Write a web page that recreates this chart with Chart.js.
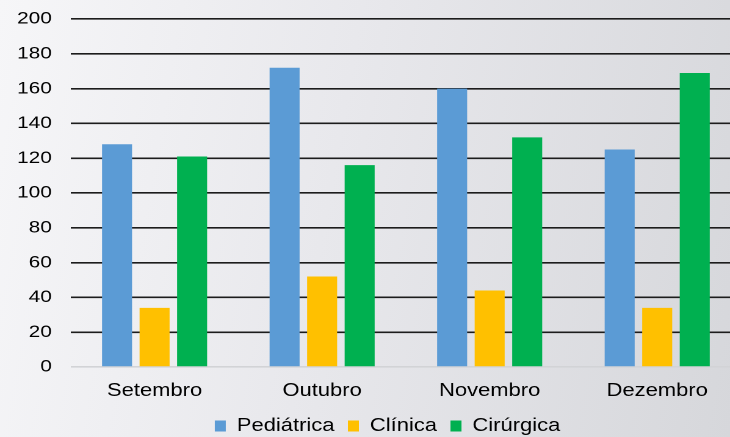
<!DOCTYPE html>
<html>
<head>
<meta charset="utf-8">
<script src="https://cdn.jsdelivr.net/npm/chart.js@4"></script>
<style>
  html, body { margin: 0; padding: 0; }
  body {
    width: 730px; height: 437px; overflow: hidden;
    background: linear-gradient(100deg, #f6f6f8 0%, #e8e8ec 45%, #d6d7db 100%);
  }
  /* the source image is stretched horizontally (and cropped on the right), so the chart is too */
  .wrap { width: 607px; height: 437px; transform: scaleX(1.2207); transform-origin: 0 0; }
</style>
</head>
<body>
<div class="wrap"><canvas id="chart"></canvas></div>
<script>
const months = ['Setembro', 'Outubro', 'Novembro', 'Dezembro'];
const pediatrica = [128, 172, 160, 125];
const clinica = [34, 52, 44, 34];
const cirurgica = [121, 116, 132, 169];
const yTicks = [0, 20, 40, 60, 80, 100, 120, 140, 160, 180, 200];

const font = 'Liberation Sans, Arial, sans-serif';

function barSet(label, data, color) {
  return {
    label: label,
    data: data,
    backgroundColor: color,
    categoryPercentage: 0.672,
    barPercentage: 0.8
  };
}

// fixed legend height and a small shift so it sits where the original one does
const legendFix = {
  id: 'legendFix',
  afterInit(chart) {
    const lg = chart.legend;
    const fit = lg.fit;
    lg.fit = function () { fit.call(this); this.height = 31; };
  },
  afterLayout(chart) {
    chart.legend.left += 28;
  }
};

new Chart(document.getElementById('chart'), {
  type: 'bar',
  data: {
    labels: months,
    datasets: [
      barSet('Pediátrica', pediatrica, '#5b9bd5'),
      barSet('Clínica', clinica, '#ffc000'),
      barSet('Cirúrgica', cirurgica, '#00b050')
    ]
  },
  plugins: [legendFix],
  options: {
    responsive: true,
    maintainAspectRatio: false,
    devicePixelRatio: 2,
    animation: false,
    layout: { padding: { top: 19, left: 0, right: 0, bottom: 0 } },
    plugins: {
      tooltip: { enabled: false },
      legend: {
        position: 'bottom',
        labels: {
          font: { family: font, size: 18 },
          color: '#000',
          boxWidth: 9,
          boxHeight: 11,
          padding: 11
        }
      }
    },
    scales: {
      x: {
        afterFit: (scale) => { scale.height = 39; },
        grid: { display: false, drawTicks: false },
        border: { display: false },
        ticks: { font: { family: font, size: 18 }, color: '#000', padding: 13 }
      },
      y: {
        min: 0,
        max: 200,
        afterBuildTicks: (scale) => { scale.ticks = yTicks.map(v => ({ value: v })); },
        afterFit: (scale) => {
          scale.width = 58;
          scale.paddingTop = 0;
          scale.paddingBottom = 0;
        },
        grid: {
          drawTicks: false,
          lineWidth: 1.6,
          color: (ctx) => ctx.tick && ctx.tick.value === 0 ? '#d2d3d6' : '#1c1c1c'
        },
        border: { display: false },
        ticks: { font: { family: font, size: 17 }, color: '#000', padding: 15.6 }
      }
    }
  }
});
</script>
</body>
</html>
